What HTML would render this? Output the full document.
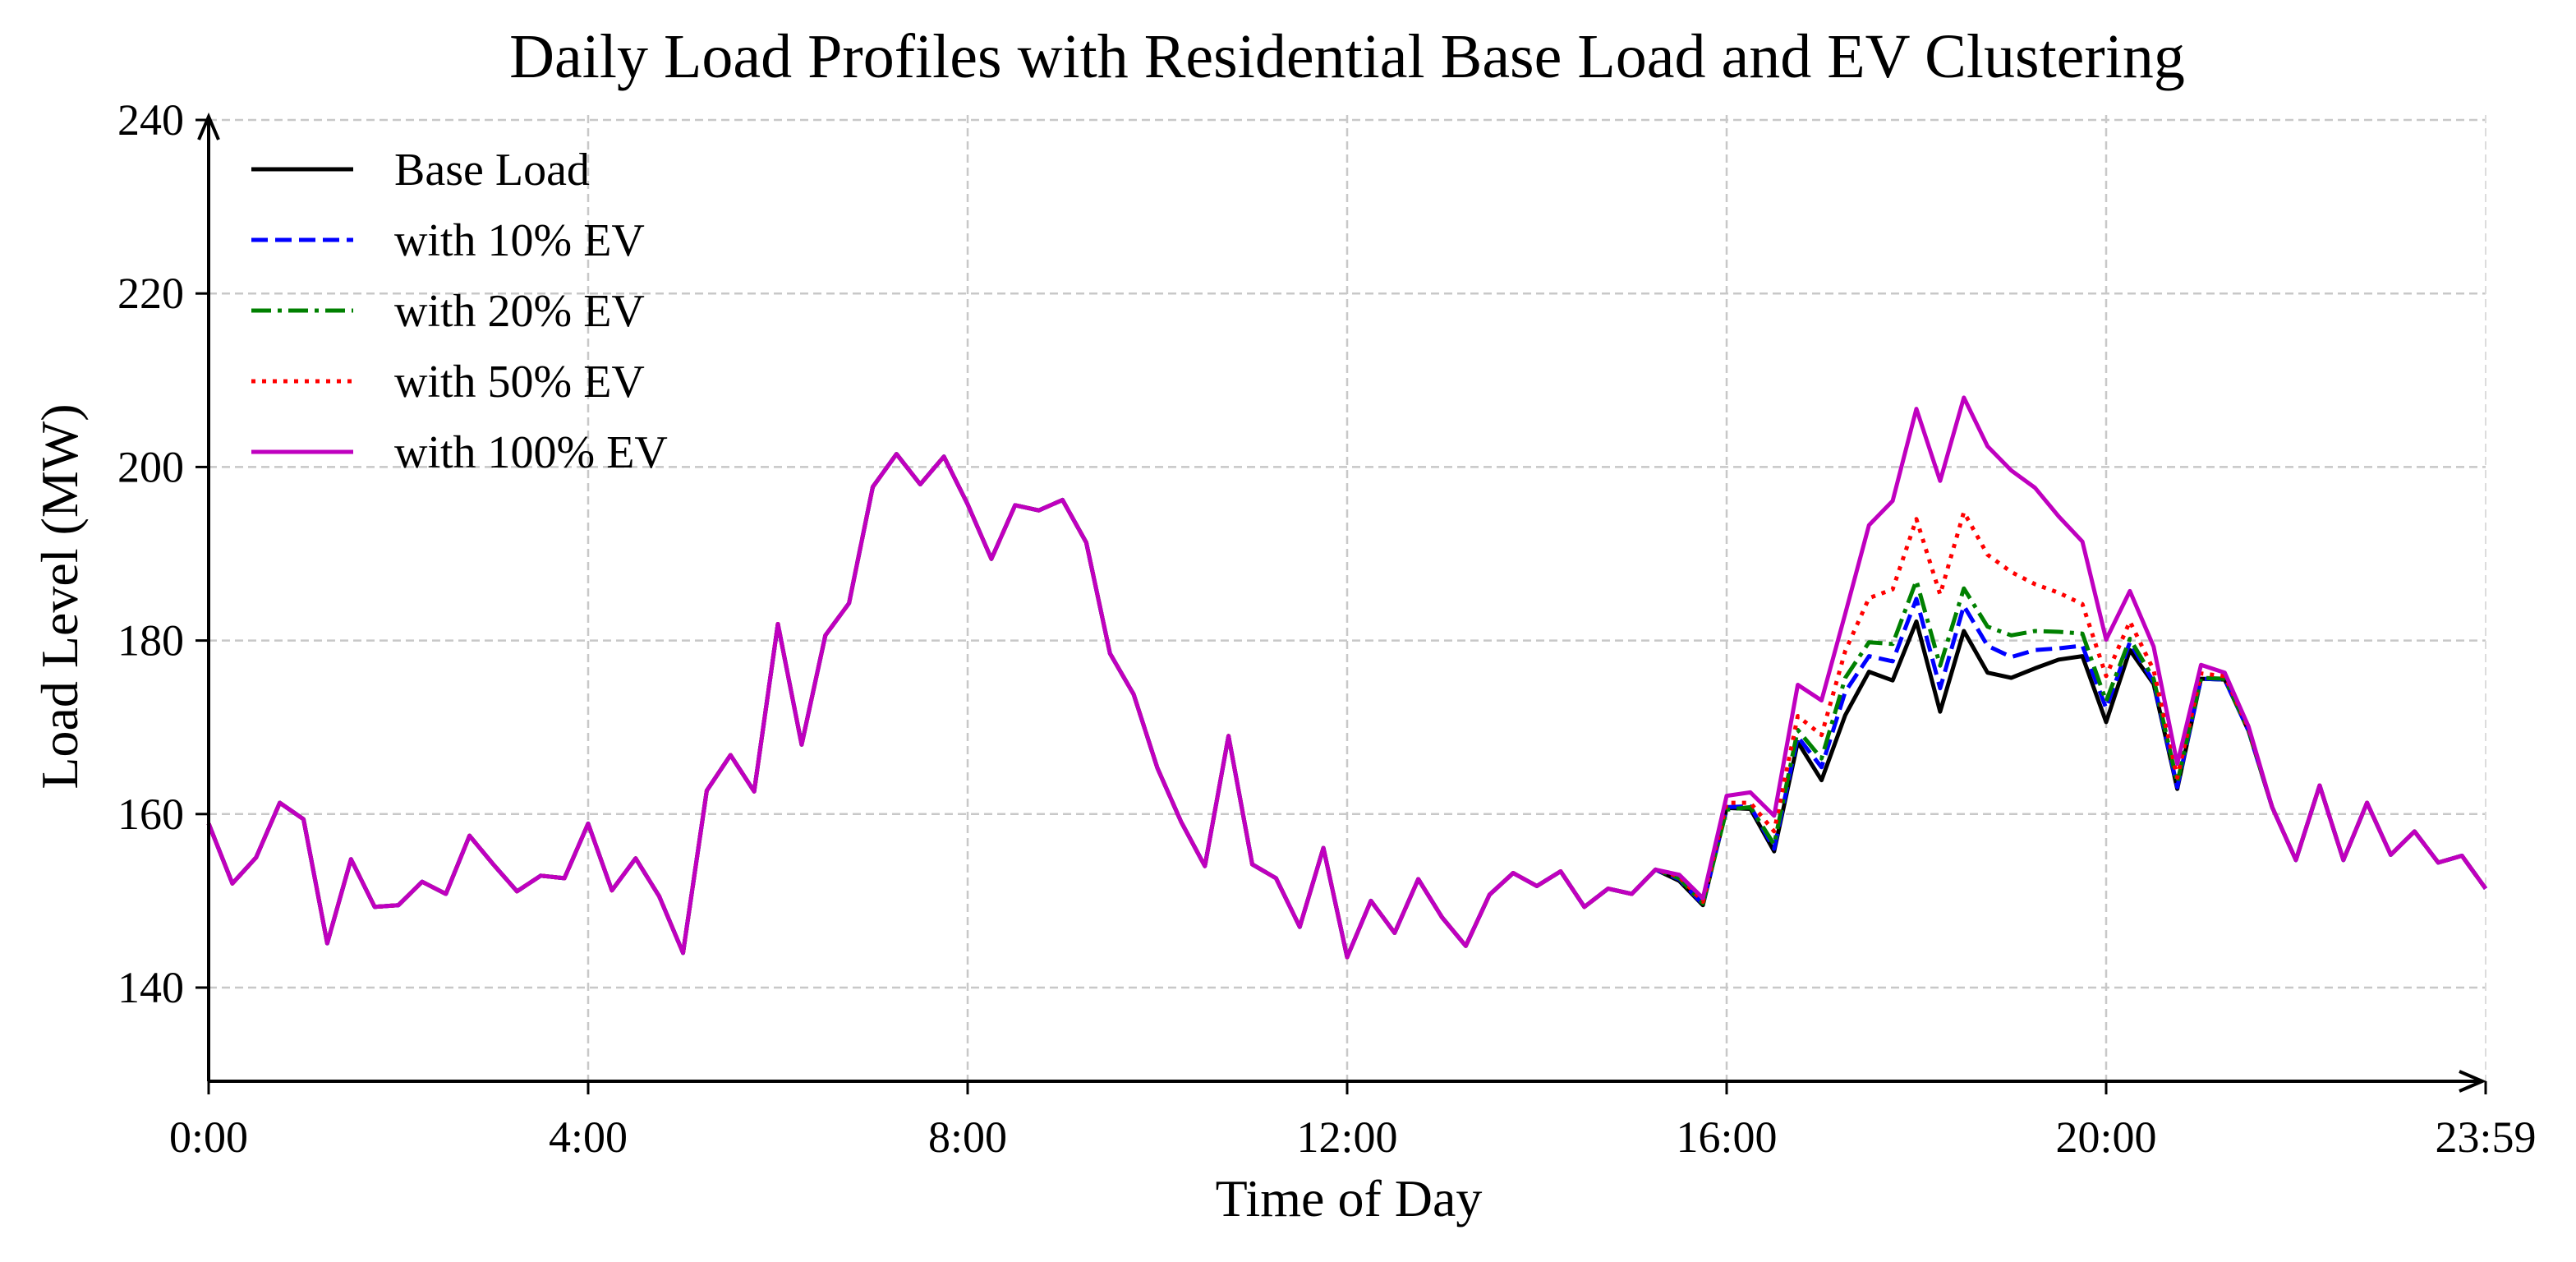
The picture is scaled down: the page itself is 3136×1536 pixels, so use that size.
<!DOCTYPE html>
<html><head><meta charset="utf-8"><style>
html,body{margin:0;padding:0;background:#fff}
svg{display:block}
text{font-family:"Liberation Serif","DejaVu Serif",serif;fill:#000}
</style></head><body>
<svg id="chart" width="3136" height="1536" viewBox="0 0 3136 1536" xmlns="http://www.w3.org/2000/svg">
<text x="1640" y="94" font-size="76" text-anchor="middle">Daily Load Profiles with Residential Base Load and EV Clustering</text>
<g id="grid"></g>
<g id="series"></g>
<g id="axes"></g>
<text x="1642" y="1480" font-size="64" text-anchor="middle">Time of Day</text>
<text transform="translate(94,726) rotate(-90)" font-size="64" text-anchor="middle">Load Level (MW)</text>
<g id="legend"></g>
</svg>
<script>
const base = [158.9,152.0,155.0,161.3,159.4,145.1,154.8,149.3,149.5,152.2,150.8,157.5,154.2,151.1,152.9,152.6,
158.9,151.2,154.9,150.5,144.0,162.7,166.8,162.6,181.9,168.0,180.6,184.3,197.7,201.5,198.0,201.2,
195.7,189.4,195.6,195.0,196.2,191.3,178.5,173.8,165.3,159.1,154.0,169.0,154.2,152.6,147.0,156.1,
143.5,150.0,146.3,152.5,148.1,144.8,150.7,153.2,151.7,153.4,149.3,151.4,150.8,153.6,152.3,149.5,
160.7,160.6,155.7,168.3,163.9,171.4,176.4,175.4,182.2,171.8,181.1,176.3,175.7,176.8,177.8,178.2,
170.6,178.9,175.0,162.9,175.6,175.5,169.6,160.8,154.7,163.3,154.7,161.3,155.3,158.0,154.4,155.2,151.4];
const evStart = 62;
const ev10Peak = [152.5,149.6,160.8,160.9,156.0,168.9,165.4,174.1,178.2,177.6,184.8,174.5,184.0,179.4,178.1,178.9,179.1,179.4,172.2,179.8,175.2,163.1,175.6,175.5,169.6];
const ev20Peak = [152.6,149.7,160.5,160.8,156.5,169.7,166.4,175.7,179.8,179.6,186.9,177.1,186.0,181.6,180.6,181.1,181.0,180.8,173.0,180.2,175.6,163.6,175.7,175.6,169.7];
const ev50Peak = [152.8,149.9,161.3,161.3,158.0,171.3,169.1,178.8,184.9,185.9,194.0,185.3,194.8,189.9,187.9,186.5,185.5,184.2,175.9,182.2,176.6,164.2,176.2,175.9,169.9];
const ev100Peak = [153.0,150.3,162.1,162.5,159.8,174.9,173.1,183.1,193.3,196.1,206.7,198.4,208.0,202.4,199.6,197.6,194.3,191.4,180.1,185.7,179.3,165.8,177.2,176.3,170.1];
const ev10 = base.slice(0,evStart).concat(ev10Peak).concat(base.slice(evStart+ev10Peak.length));
const ev20 = base.slice(0,evStart).concat(ev20Peak).concat(base.slice(evStart+ev20Peak.length));
const ev50 = base.slice(0,evStart).concat(ev50Peak).concat(base.slice(evStart+ev50Peak.length));
const ev100 = base.slice(0,evStart).concat(ev100Peak).concat(base.slice(evStart+ev100Peak.length));
const xTickHours = [0,4,8,12,16,20,24];
const xTickLabels = ["0:00","4:00","8:00","12:00","16:00","20:00","23:59"];
const yTicks = [140,160,180,200,220,240];
const seriesNames = ["Base Load","with 10% EV","with 20% EV","with 50% EV","with 100% EV"];

const NS="http://www.w3.org/2000/svg";
const X0=254,X1=3026,Y0=1316;
function xs(h){return X0+(h/24)*(X1-X0);}
function ys(v){return 1202-(v-140)*10.56;}
function mk(tag,attrs,parent){const e=document.createElementNS(NS,tag);for(const k in attrs)e.setAttribute(k,attrs[k]);parent.appendChild(e);return e;}
const grid=document.getElementById('grid'),axes=document.getElementById('axes'),ser=document.getElementById('series'),leg=document.getElementById('legend');
yTicks.forEach(v=>{
  const g=mk('line',{x1:X0,x2:X1,y1:ys(v),y2:ys(v),stroke:'#c8c8c8','stroke-width':2.5,'stroke-dasharray':'10,6'},grid);
  
  
  const t=mk('line',{x1:X0-16,x2:X0,y1:ys(v),y2:ys(v),stroke:'#000','stroke-width':3},axes);
  
  
  const l=mk('text',{x:X0-30,y:ys(v)+18,'font-size':54,'text-anchor':'end'},axes);l.textContent=v;
  
  
});
xTickHours.forEach((h,i)=>{
  const g=mk('line',{x1:xs(h),x2:xs(h),y1:140,y2:Y0,stroke:(h===24?'#dcdcdc':'#c8c8c8'),'stroke-width':(h===24?2:2.5),'stroke-dasharray':'10,6'},grid);
  
  
  const t=mk('line',{x1:xs(h),x2:xs(h),y1:Y0,y2:Y0+16,stroke:'#000','stroke-width':3},axes);
  
  
  const l=mk('text',{x:xs(h),y:Y0+86,'font-size':54,'text-anchor':'middle'},axes);l.textContent=xTickLabels[i];
  
  
});
const styles=[
 {d:base,c:'#000000',dash:'none'},
 {d:ev10,c:'#0000ff',dash:'20,9'},
 {d:ev20,c:'#008000',dash:'24,8,5,8'},
 {d:ev50,c:'#ff0000',dash:'5,8'},
 {d:ev100,c:'#bf00bf',dash:'none'}];
styles.forEach((s,i)=>{
  const pts=s.d.map((v,k)=>xs(k*0.25).toFixed(1)+','+ys(v).toFixed(1)).join(' ');
  const p=mk('polyline',{points:pts,fill:'none',stroke:s.c,'stroke-width':5,'stroke-linejoin':'round','stroke-dasharray':s.dash},ser);
  
  
  const y=206+i*86;
  const ll=mk('line',{x1:306,x2:430,y1:y,y2:y,stroke:s.c,'stroke-width':5,'stroke-dasharray':s.dash},leg);
  
  
  const lt=mk('text',{x:480,y:y+19,'font-size':56},leg);lt.textContent=seriesNames[i];
  
  
});
const ya=mk('path',{d:`M${X0},${Y0} L${X0},142 M${X0-12},170 L${X0},142 L${X0+12},170`,fill:'none',stroke:'#000','stroke-width':4},axes);


const xa=mk('path',{d:`M${X0},${Y0} L${X1-4},${Y0} M${X1-32},${Y0-12} L${X1-4},${Y0} L${X1-32},${Y0+12}`,fill:'none',stroke:'#000','stroke-width':4},axes);


</script>
</body></html>
